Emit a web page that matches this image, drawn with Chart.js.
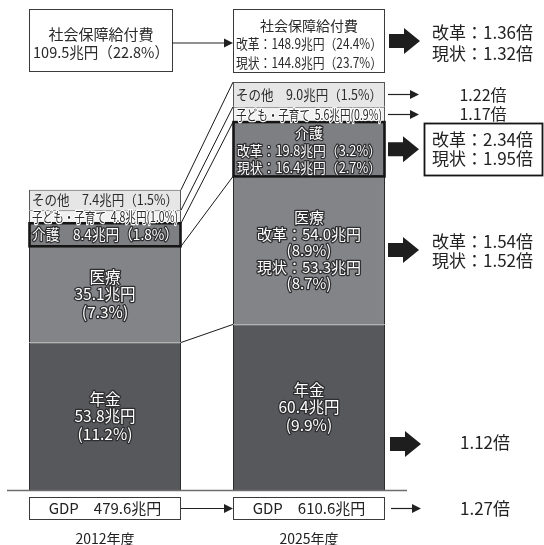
<!DOCTYPE html>
<html><head><meta charset="utf-8">
<script src="https://cdn.jsdelivr.net/npm/chart.js@4"></script>
<style>html,body{margin:0;padding:0;background:#fff;}#wrap{width:544px;height:545px;position:relative;}</style>
</head><body><div id="wrap"><canvas id="c"></canvas></div>
<script>
// ---- data ----
const categories = ['2012年度', '2025年度'];
const pension = [53.8, 60.4];
const medical = [35.1, 54.0];
const care = [8.4, 19.8];
const child = [4.8, 5.6];
const other = [7.4, 9.0];
const pensionPct = [11.2, 9.9];
const medicalPct = [7.3, 8.9];
const carePct = [1.8, 3.2];
const childPct = [1.0, 0.9];
const otherPct = [1.5, 1.5];
const medicalCurrent2025 = [53.3, 8.7];   // 兆円, %
const careCurrent2025 = [16.4, 2.7];      // 兆円, %
const totalBenefit = [109.5, 148.9];
const totalBenefitPct = [22.8, 24.4];
const totalCurrent2025 = [144.8, 23.7];
const gdp = [479.6, 610.6];
const ratioTotal = [1.36, 1.32];   // 改革, 現状
const ratioCare = [2.34, 1.95];
const ratioMedical = [1.54, 1.52];
const ratioOther = 1.22;
const ratioChild = 1.17;
const ratioPension = 1.12;
const ratioGdp = 1.27;

const FONT = "'Noto Sans CJK JP','Noto Sans',sans-serif";
const f = (s, w) => `${w || ''} ${s}px ${FONT}`;
const n1 = v => v.toFixed(1);

function lines(ctx, arr, cx, cy, lh, font, style, maxW) {
  ctx.save();
  ctx.font = font; ctx.textAlign = 'center'; ctx.textBaseline = 'middle';
  ctx.lineJoin = 'round';
  const n = arr.length;
  arr.forEach((t, k) => {
    const y = cy + (k - (n - 1) / 2) * lh;
    if (style === 'outline') {
      ctx.strokeStyle = '#2e2e30'; ctx.lineWidth = 2.6;
      maxW ? ctx.strokeText(t, cx, y, maxW) : ctx.strokeText(t, cx, y);
      ctx.fillStyle = '#ffffff';
    } else if (style === 'halo') {
      ctx.strokeStyle = '#ffffff'; ctx.lineWidth = 2.4;
      maxW ? ctx.strokeText(t, cx, y, maxW) : ctx.strokeText(t, cx, y);
      ctx.fillStyle = '#2a2a2a';
    } else {
      ctx.fillStyle = '#2a2a2a';
    }
    maxW ? ctx.fillText(t, cx, y, maxW) : ctx.fillText(t, cx, y);
  });
  ctx.restore();
}
function thinArrow(ctx, x1, x2, y) {
  ctx.save();
  ctx.strokeStyle = '#222'; ctx.fillStyle = '#222'; ctx.lineWidth = 1.2;
  ctx.beginPath(); ctx.moveTo(x1, y); ctx.lineTo(x2 - 7, y); ctx.stroke();
  ctx.beginPath(); ctx.moveTo(x2, y); ctx.lineTo(x2 - 9, y - 4.5); ctx.lineTo(x2 - 9, y + 4.5); ctx.closePath(); ctx.fill();
  ctx.restore();
}
function blockArrow(ctx, x0, cy) {
  ctx.save();
  ctx.fillStyle = '#1e1e1e';
  ctx.beginPath();
  ctx.moveTo(x0, cy - 7); ctx.lineTo(x0 + 15, cy - 7); ctx.lineTo(x0 + 15, cy - 13);
  ctx.lineTo(x0 + 31, cy); ctx.lineTo(x0 + 15, cy + 13); ctx.lineTo(x0 + 15, cy + 7);
  ctx.lineTo(x0, cy + 7); ctx.closePath(); ctx.fill();
  ctx.restore();
}
function textAt(ctx, t, x, y, font, align, color) {
  ctx.save();
  ctx.font = font; ctx.textAlign = align || 'left'; ctx.textBaseline = 'middle';
  ctx.fillStyle = color || '#222';
  ctx.fillText(t, x, y);
  ctx.restore();
}

const annot = {
  id: 'annot',
  beforeDraw(chart) {
    const c = chart.ctx; c.save(); c.fillStyle = '#fff'; c.fillRect(0, 0, chart.width, chart.height); c.restore();
  },
  afterDatasetsDraw(chart) {
    const ctx = chart.ctx;
    const y = chart.scales.y;
    const M = i => chart.getDatasetMeta(i).data;
    const bars = [0, 1].map(j => {
      const e = M(0)[j];
      return { l: e.x - e.width / 2, r: e.x + e.width / 2, cx: e.x };
    });
    const seg = (i, j) => { const e = M(i)[j]; return { top: e.y, bot: e.base, mid: (e.y + e.base) / 2 }; };

    // baseline
    ctx.save(); ctx.strokeStyle = '#6d6d6d'; ctx.lineWidth = 1.5;
    ctx.beginPath(); ctx.moveTo(7, y.getPixelForValue(0) + 0.5); ctx.lineTo(407, y.getPixelForValue(0) + 0.5); ctx.stroke();
    ctx.restore();

    // connectors
    ctx.save(); ctx.strokeStyle = '#1a1a1a'; ctx.lineWidth = 1;
    [1, 2, 3, 4].forEach(i => {
      const a = seg(i, 0), b = seg(i, 1);
      ctx.beginPath(); ctx.moveTo(bars[0].r, a.bot); ctx.lineTo(bars[1].l, b.bot); ctx.stroke();
    });
    { const a = seg(4, 0), b = seg(4, 1);
      ctx.beginPath(); ctx.moveTo(bars[0].r, a.top); ctx.lineTo(bars[1].l, b.top); ctx.stroke(); }
    ctx.restore();

    // care thick outline
    ctx.save(); ctx.strokeStyle = '#151515'; ctx.lineWidth = 2.6;
    [0, 1].forEach(j => { const s = seg(2, j); ctx.strokeRect(bars[j].l + 0.5, s.top, bars[j].r - bars[j].l - 1, s.bot - s.top); });
    ctx.restore();

    // labels inside left bar
    let s;
    s = seg(0, 0); lines(ctx, ['年金', `${n1(pension[0])}兆円`, `(${n1(pensionPct[0])}%)`], bars[0].cx, s.mid, 17.5, f(15.5), 'outline');
    s = seg(1, 0); lines(ctx, ['医療', `${n1(medical[0])}兆円`, `(${n1(medicalPct[0])}%)`], bars[0].cx, s.mid, 17.5, f(15.5), 'outline');
    s = seg(2, 0); lines(ctx, [`介護　${n1(care[0])}兆円（${n1(carePct[0])}%）`], bars[0].cx, s.mid, 17, f(15), 'outline', 146);
    s = seg(3, 0); lines(ctx, [`子ども・子育て  ${n1(child[0])}兆円(${n1(childPct[0])}%)`], bars[0].cx, s.mid, 17, f(14), 'halo', 146);
    s = seg(4, 0); lines(ctx, [`その他　${n1(other[0])}兆円（${n1(otherPct[0])}%）`], bars[0].cx, s.mid, 17, f(14), 'plain', 146);
    // labels inside right bar
    s = seg(0, 1); lines(ctx, ['年金', `${n1(pension[1])}兆円`, `(${n1(pensionPct[1])}%)`], bars[1].cx, s.mid, 17.5, f(15.5), 'outline');
    s = seg(1, 1); lines(ctx, ['医療', `改革：${n1(medical[1])}兆円`, `(${n1(medicalPct[1])}%)`, `現状：${n1(medicalCurrent2025[0])}兆円`, `(${n1(medicalCurrent2025[1])}%)`], bars[1].cx, s.mid, 16.5, f(15), 'outline');
    s = seg(2, 1); lines(ctx, ['介護', `改革：${n1(care[1])}兆円（${n1(carePct[1])}%）`, `現状：${n1(careCurrent2025[0])}兆円（${n1(careCurrent2025[1])}%）`], bars[1].cx, s.mid + 1, 17.5, f(14), 'outline', 144);
    s = seg(3, 1); lines(ctx, [`子ども・子育て  ${n1(child[1])}兆円(${n1(childPct[1])}%)`], bars[1].cx, s.mid, 17, f(14), 'halo', 146);
    s = seg(4, 1); lines(ctx, [`その他　${n1(other[1])}兆円（${n1(otherPct[1])}%）`], bars[1].cx, s.mid, 17, f(14), 'plain', 146);

    // top boxes
    ctx.save(); ctx.strokeStyle = '#3a3a3a'; ctx.lineWidth = 1;
    ctx.strokeRect(bars[0].l + 0.5, 9.5, 143, 62);
    ctx.strokeRect(bars[1].l + 0.5, 9.5, bars[1].r - bars[1].l - 1, 63);
    ctx.restore();
    lines(ctx, ['社会保障給付費'], bars[0].l + 72, 34, 18, f(15), 'plain');
    lines(ctx, [`${n1(totalBenefit[0])}兆円（${n1(totalBenefitPct[0])}%）`], bars[0].l + 72, 52, 18, f(15), 'plain', 136);
    lines(ctx, ['社会保障給付費'], bars[1].cx, 26, 18, f(14), 'plain');
    lines(ctx, [`改革：${n1(totalBenefit[1])}兆円（${n1(totalBenefitPct[1])}%）`, `現状：${n1(totalCurrent2025[0])}兆円（${n1(totalCurrent2025[1])}%）`], bars[1].cx, 53, 18.5, f(14), 'plain', 146);
    thinArrow(ctx, bars[0].l + 143, bars[1].l, 43);
    blockArrow(ctx, 389, 41);
    textAt(ctx, `改革：${ratioTotal[0].toFixed(2)}倍`, 432, 33, f(17));
    textAt(ctx, `現状：${ratioTotal[1].toFixed(2)}倍`, 432, 54, f(17));

    // other / child
    const so = seg(4, 1), sc = seg(3, 1);
    thinArrow(ctx, 388, 419, Math.round(so.mid) + 0.5);
    textAt(ctx, `${ratioOther.toFixed(2)}倍`, 483, so.mid, f(16), 'center');
    thinArrow(ctx, 388, 419, Math.round(sc.mid) + 0.5);
    textAt(ctx, `${ratioChild.toFixed(2)}倍`, 483, sc.mid - 1, f(16), 'center');

    // care
    const sk = seg(2, 1);
    blockArrow(ctx, 388, sk.mid);
    ctx.save(); ctx.strokeStyle = '#151515'; ctx.lineWidth = 1.8; ctx.strokeRect(424.5, 123.5, 118, 52); ctx.restore();
    textAt(ctx, `改革：${ratioCare[0].toFixed(2)}倍`, 432, 140, f(17));
    textAt(ctx, `現状：${ratioCare[1].toFixed(2)}倍`, 432, 159, f(17));

    // medical
    blockArrow(ctx, 388, 250);
    textAt(ctx, `改革：${ratioMedical[0].toFixed(2)}倍`, 432, 242, f(17));
    textAt(ctx, `現状：${ratioMedical[1].toFixed(2)}倍`, 432, 261, f(17));

    // pension
    blockArrow(ctx, 390, 444);
    textAt(ctx, `${ratioPension.toFixed(2)}倍`, 485, 443, f(17), 'center');

    // GDP
    ctx.save(); ctx.strokeStyle = '#3a3a3a'; ctx.lineWidth = 1;
    ctx.strokeRect(bars[0].l + 0.5, 497.5, bars[0].r - bars[0].l - 1, 22);
    ctx.strokeRect(bars[1].l + 0.5, 497.5, bars[1].r - bars[1].l - 1, 22);
    ctx.restore();
    textAt(ctx, `GDP　${n1(gdp[0])}兆円`, bars[0].cx, 508.5, f(15), 'center');
    textAt(ctx, `GDP　${n1(gdp[1])}兆円`, bars[1].cx, 508.5, f(15), 'center');
    thinArrow(ctx, bars[0].r, bars[1].l, 508.5);
    thinArrow(ctx, 391, 421, 508.5);
    textAt(ctx, `${ratioGdp.toFixed(2)}倍`, 485, 508.5, f(17), 'center');

    // categories
    textAt(ctx, categories[0], bars[0].cx, 539, f(14), 'center');
    textAt(ctx, categories[1], bars[1].cx, 539, f(14), 'center');
  }
};

new Chart(document.getElementById('c'), {
  type: 'bar',
  data: {
    labels: categories,
    datasets: [
      { label: '年金', data: pension, backgroundColor: '#57585b', borderColor: '#2a2a2a', borderWidth: 1 },
      { label: '医療', data: medical, backgroundColor: '#838487', borderColor: '#2a2a2a', borderWidth: 1 },
      { label: '介護', data: care, backgroundColor: '#7e7f82', borderColor: '#2a2a2a', borderWidth: 1 },
      { label: '子ども・子育て', data: child, backgroundColor: '#f1f1f1', borderColor: '#555', borderWidth: 1 },
      { label: 'その他', data: other, backgroundColor: '#e6e6e7', borderColor: '#555', borderWidth: 1 }
    ]
  },
  options: {
    responsive: true, maintainAspectRatio: false, animation: false,
    layout: { padding: { left: 3, right: 133, top: 24, bottom: 55 } },
    plugins: { legend: { display: false }, tooltip: { enabled: false } },
    datasets: { bar: { categoryPercentage: 1, barPercentage: 0.745 } },
    scales: {
      x: { stacked: true, display: false },
      y: { stacked: true, display: false, min: 0, max: 170 }
    }
  },
  plugins: [annot]
});
</script></body></html>
